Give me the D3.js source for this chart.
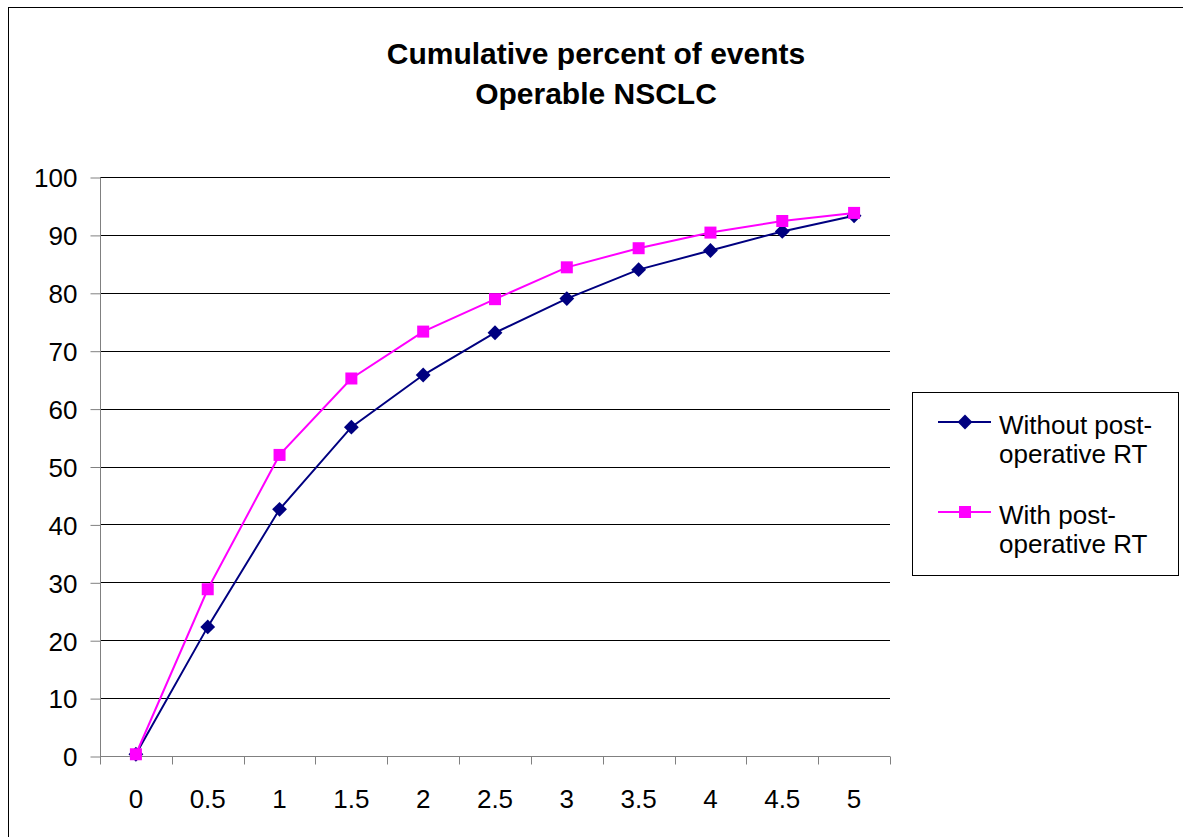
<!DOCTYPE html>
<html>
<head>
<meta charset="utf-8">
<script src="https://cdn.jsdelivr.net/npm/d3@7/dist/d3.min.js"></script>
<style>
  body { margin: 0; background: #fff; }
  svg { display: block; font-family: "Liberation Sans", Arial, sans-serif; }
</style>
</head>
<body>
<svg id="chart" width="1183" height="837"></svg>
<script>
var years = ['0', '0.5', '1', '1.5', '2', '2.5', '3', '3.5', '4', '4.5', '5'];
var withoutRT = [0.3, 22.3, 42.6, 56.8, 65.8, 73.1, 79.0, 84.0, 87.3, 90.6, 93.3];
var withRT = [0.3, 28.8, 52.0, 65.2, 73.3, 78.9, 84.4, 87.7, 90.4, 92.4, 93.8];
var yTicks = [0, 10, 20, 30, 40, 50, 60, 70, 80, 90, 100];
var seriesNames = [['Without post-', 'operative RT'], ['With post-', 'operative RT']];

var svg = d3.select('#chart');
var plot = {left: 100, right: 890, top: 177, bottom: 756};

// outer chart border, runs off the right and bottom edges
svg.append('rect')
  .attr('x', 8.5).attr('y', 7.5)
  .attr('width', 1200).attr('height', 900)
  .attr('fill', '#fff').attr('stroke', '#000').attr('stroke-width', 1);

var x = d3.scaleBand().domain(years).range([plot.left, plot.right]).padding(0);
var y = d3.scaleLinear().domain([0, 100]).range([plot.bottom, plot.top]);
var cx = function(d, i) { return x(years[i]) + x.bandwidth() / 2; };

// title
var title = svg.append('text')
  .attr('text-anchor', 'middle')
  .attr('font-weight', 'bold')
  .attr('font-size', 30);
title.append('tspan').attr('x', 596).attr('y', 64).text('Cumulative percent of events');
title.append('tspan').attr('x', 596).attr('y', 104).text('Operable NSCLC');

// gridlines
svg.append('g').selectAll('line')
  .data(yTicks.filter(function(t) { return t > 0; }))
  .enter().append('line')
  .attr('x1', plot.left).attr('x2', plot.right)
  .attr('y1', function(d) { return Math.round(y(d)) + 0.5; })
  .attr('y2', function(d) { return Math.round(y(d)) + 0.5; })
  .attr('stroke', '#000').attr('stroke-width', 1);

// y axis
var yAxis = svg.append('g')
  .attr('transform', 'translate(' + (plot.left + 0.5) + ',0.5)')
  .call(d3.axisLeft(y).tickValues(yTicks).tickSize(10).tickPadding(13));
yAxis.select('.domain').attr('stroke', '#808080').attr('d', 'M0,' + plot.top + 'V' + plot.bottom);
yAxis.selectAll('.tick line').attr('stroke', '#808080');
yAxis.selectAll('.tick text')
  .attr('font-size', 26).attr('font-family', '"Liberation Sans", Arial, sans-serif')
  .attr('fill', '#000').attr('dy', '0.36em');

// x axis, ticks on band edges
var xAxis = svg.append('g')
  .attr('transform', 'translate(0,' + (plot.bottom + 0.5) + ')');
xAxis.append('line')
  .attr('x1', plot.left).attr('x2', plot.right)
  .attr('stroke', '#808080');
xAxis.selectAll('.edge')
  .data(years.concat(['end']))
  .enter().append('line').attr('class', 'edge')
  .attr('x1', function(d, i) { return Math.round(i < years.length ? x(d) : plot.right) + 0.5; })
  .attr('x2', function(d, i) { return Math.round(i < years.length ? x(d) : plot.right) + 0.5; })
  .attr('y1', 0).attr('y2', 8)
  .attr('stroke', '#808080');
xAxis.selectAll('.lbl')
  .data(years)
  .enter().append('text').attr('class', 'lbl')
  .attr('x', function(d) { return x(d) + x.bandwidth() / 2; })
  .attr('y', 51)
  .attr('text-anchor', 'middle')
  .attr('font-size', 26)
  .text(function(d) { return d; });

var line = d3.line()
  .x(cx)
  .y(function(d) { return y(d); });

var navy = '#000080', magenta = '#ff00ff';

svg.append('path').datum(withoutRT)
  .attr('d', line).attr('fill', 'none')
  .attr('stroke', navy).attr('stroke-width', 2);
svg.append('path').datum(withRT)
  .attr('d', line).attr('fill', 'none')
  .attr('stroke', magenta).attr('stroke-width', 2);

var diamond = d3.symbol().type(d3.symbolDiamond2).size(140);
svg.append('g').selectAll('path')
  .data(withoutRT)
  .enter().append('path')
  .attr('d', diamond)
  .attr('transform', function(d, i) { return 'translate(' + cx(d, i) + ',' + y(d) + ')'; })
  .attr('fill', navy);

svg.append('g').selectAll('rect')
  .data(withRT)
  .enter().append('rect')
  .attr('x', function(d, i) { return cx(d, i) - 6; })
  .attr('y', function(d) { return y(d) - 6; })
  .attr('width', 12).attr('height', 12)
  .attr('fill', magenta);

// legend
var legend = svg.append('g');
legend.append('rect')
  .attr('x', 912.5).attr('y', 392.5)
  .attr('width', 266).attr('height', 183)
  .attr('fill', '#fff').attr('stroke', '#000');

var entries = [
  {color: navy, name: seriesNames[0], my: 422, kind: 'diamond'},
  {color: magenta, name: seriesNames[1], my: 512, kind: 'square'}
];
entries.forEach(function(e) {
  legend.append('line')
    .attr('x1', 938).attr('x2', 991)
    .attr('y1', e.my).attr('y2', e.my)
    .attr('stroke', e.color).attr('stroke-width', 2);
  if (e.kind === 'diamond') {
    legend.append('path')
      .attr('d', diamond)
      .attr('transform', 'translate(965,' + e.my + ')')
      .attr('fill', e.color);
  } else {
    legend.append('rect')
      .attr('x', 959).attr('y', e.my - 6)
      .attr('width', 12).attr('height', 12)
      .attr('fill', e.color);
  }
  var t = legend.append('text').attr('font-size', 26);
  t.append('tspan').attr('x', 999).attr('y', e.my + 12).text(e.name[0]);
  t.append('tspan').attr('x', 999).attr('y', e.my + 41).text(e.name[1]);
});
</script>
</body>
</html>
